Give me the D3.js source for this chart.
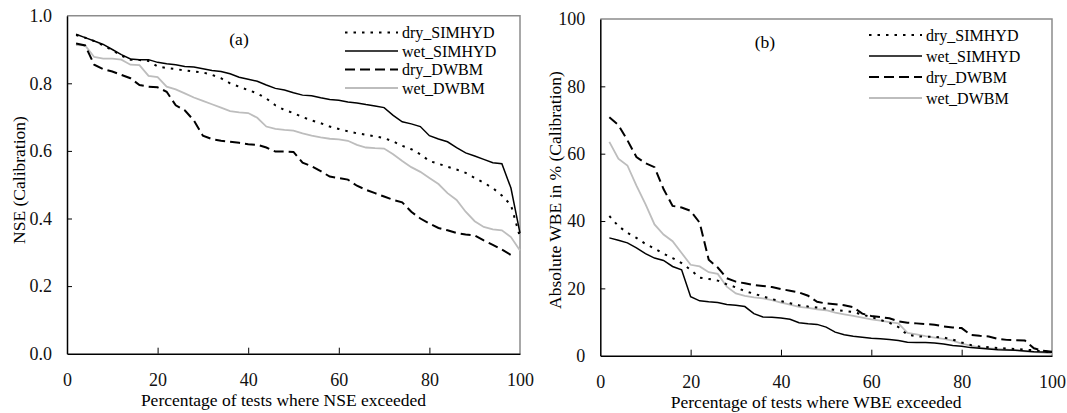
<!DOCTYPE html>
<html>
<head>
<meta charset="utf-8">
<script src="https://cdn.jsdelivr.net/npm/d3@7"></script>
<style>
  body { margin: 0; background: #fff; }
  svg { display: block; font-family: "Liberation Serif", "Times New Roman", serif; }
</style>
</head>
<body>
<div id="chart"></div>
<script>
// Percentage of tests (x values, one per test)
const pct = [2, 4, 6, 8, 10, 12, 14, 16, 18, 20, 22, 24, 26, 28, 30, 32, 34, 36, 38, 40,
  42, 44, 46, 48, 50, 52, 54, 56, 58, 60, 62, 64, 66, 68, 70, 72, 74, 76, 78, 80,
  82, 84, 86, 88, 90, 92, 94, 96, 98, 100];

// (a) NSE, calibration
const nseDrySimhyd = [0.943, 0.935, 0.925, 0.912, 0.898, 0.882, 0.870, 0.869, 0.866, 0.850,
  0.845, 0.842, 0.838, 0.835, 0.832, 0.825, 0.815, 0.800, 0.790, 0.780,
  0.770, 0.755, 0.735, 0.721, 0.712, 0.700, 0.690, 0.682, 0.672, 0.665,
  0.658, 0.652, 0.648, 0.643, 0.638, 0.628, 0.615, 0.605, 0.590, 0.570,
  0.562, 0.553, 0.545, 0.535, 0.520, 0.506, 0.490, 0.468, 0.440, 0.345];
const nseWetSimhyd = [0.945, 0.935, 0.925, 0.915, 0.900, 0.885, 0.872, 0.870, 0.870, 0.862,
  0.858, 0.855, 0.850, 0.848, 0.843, 0.838, 0.835, 0.828, 0.818, 0.812,
  0.806, 0.795, 0.785, 0.780, 0.772, 0.765, 0.763, 0.757, 0.752, 0.750,
  0.745, 0.742, 0.737, 0.733, 0.728, 0.705, 0.686, 0.680, 0.672, 0.645,
  0.635, 0.627, 0.610, 0.594, 0.585, 0.575, 0.565, 0.562, 0.490, 0.357];
const nseDryDwbm = [0.918, 0.912, 0.855, 0.842, 0.835, 0.825, 0.815, 0.795, 0.790, 0.788,
  0.775, 0.735, 0.720, 0.690, 0.645, 0.635, 0.630, 0.627, 0.624, 0.620,
  0.618, 0.610, 0.598, 0.598, 0.597, 0.565, 0.555, 0.540, 0.524, 0.520,
  0.515, 0.497, 0.485, 0.475, 0.465, 0.455, 0.448, 0.420, 0.400, 0.385,
  0.372, 0.365, 0.357, 0.353, 0.350, 0.335, 0.322, 0.308, 0.292];
const nseWetDwbm = [0.913, 0.912, 0.878, 0.873, 0.873, 0.870, 0.855, 0.854, 0.822, 0.818,
  0.790, 0.782, 0.770, 0.758, 0.748, 0.738, 0.728, 0.718, 0.714, 0.712,
  0.698, 0.672, 0.665, 0.662, 0.660, 0.652, 0.645, 0.640, 0.636, 0.634,
  0.630, 0.618, 0.610, 0.608, 0.607, 0.590, 0.570, 0.552, 0.538, 0.520,
  0.502, 0.475, 0.455, 0.420, 0.392, 0.375, 0.368, 0.365, 0.345, 0.305];

// (b) absolute WBE in %, calibration
const wbeDrySimhyd = [41.5, 38.5, 36.5, 35.0, 33.2, 31.8, 30.3, 29.0, 27.5, 25.5,
  23.2, 22.8, 22.3, 21.2, 20.3, 19.2, 18.4, 17.6, 16.8, 16.2,
  15.6, 15.0, 14.6, 14.3, 14.0, 13.6, 13.3, 13.0, 12.2, 11.5,
  10.6, 9.8, 8.5, 6.2, 5.8, 5.6, 5.6, 5.4, 4.8, 3.9,
  3.2, 2.7, 2.5, 2.3, 2.1, 2.0, 1.8, 1.6, 1.3, 1.0];
const wbeWetSimhyd = [35.0, 34.3, 33.5, 32.0, 30.3, 29.0, 28.3, 26.5, 25.5, 17.5,
  16.3, 16.0, 15.8, 15.2, 15.0, 14.6, 12.5, 11.5, 11.4, 11.2,
  10.8, 9.8, 9.5, 9.3, 8.5, 7.0, 6.2, 5.8, 5.5, 5.2,
  5.0, 4.8, 4.5, 4.0, 3.9, 3.9, 3.8, 3.5, 3.0, 2.8,
  2.4, 2.2, 2.0, 1.8, 1.7, 1.6, 1.4, 1.2, 1.1, 1.0];
const wbeDryDwbm = [70.8, 68.5, 64.0, 59.0, 57.2, 56.0, 49.5, 44.5, 44.0, 43.0,
  39.5, 28.5, 26.2, 23.0, 22.0, 21.5, 21.0, 20.7, 20.4, 19.8,
  19.3, 18.8, 17.8, 16.0, 15.5, 15.3, 15.0, 14.4, 12.5, 11.8,
  11.5, 11.1, 10.2, 9.8, 9.6, 9.4, 9.2, 8.7, 8.4, 8.2,
  6.2, 5.9, 5.7, 5.0, 4.7, 4.6, 4.5, 2.2, 1.5, 1.2];
const wbeWetDwbm = [63.5, 58.5, 56.5, 50.5, 45.0, 39.0, 36.0, 34.0, 30.5, 27.0,
  26.5, 24.8, 24.3, 20.5, 18.5, 17.8, 17.3, 17.0, 16.5, 15.8,
  15.2, 14.5, 14.2, 13.8, 13.5, 12.8, 12.3, 11.8, 11.3, 10.8,
  10.4, 10.0, 9.6, 6.8, 6.3, 5.8, 5.4, 5.0, 4.5, 3.6,
  3.0, 2.4, 2.2, 2.0, 1.8, 1.6, 1.3, 1.1, 0.9, 0.6];

const seriesNames = ["dry_SIMHYD", "wet_SIMHYD", "dry_DWBM", "wet_DWBM"];
const pctTicks = [0, 20, 40, 60, 80, 100];
const nseTicks = [0, 0.2, 0.4, 0.6, 0.8, 1.0];
const wbeTicks = [0, 20, 40, 60, 80, 100];

// line look per series (same order as seriesNames)
const lineStyle = [
  {stroke: "#000", width: 2, dash: "2.5,6"},
  {stroke: "#000", width: 1.5, dash: null},
  {stroke: "#000", width: 2, dash: "10,5"},
  {stroke: "#bdbdbd", width: 1.8, dash: null}
];

const width = 1067, height = 413;
const svg = d3.select("#chart").append("svg")
    .attr("width", width)
    .attr("height", height)
    .attr("viewBox", [0, 0, width, height]);

function panel(o) {
  const x = d3.scaleLinear().domain([0, 100]).range([o.left, o.right]);
  const y = d3.scaleLinear().domain([o.yTicks[0], o.yTicks[o.yTicks.length - 1]]).range([o.bottom, o.top]);
  const g = svg.append("g");

  // gray frame on top and right
  g.append("path")
      .attr("d", `M${o.left},${o.top}H${o.right}V${o.bottom}`)
      .attr("fill", "none")
      .attr("stroke", "#8c8c8c")
      .attr("stroke-width", 1.5);

  // axes, ticks point inwards
  g.append("g")
      .attr("transform", `translate(0,${o.bottom})`)
      .call(d3.axisBottom(x).tickValues(pctTicks).tickSize(-6).tickSizeOuter(0).tickPadding(20))
      .call(a => a.selectAll(".tick line").filter(d => d === 0 || d === 100).remove())
      .call(a => a.select(".domain").attr("stroke-width", 1.5))
      .call(a => a.selectAll("text").attr("font-size", 18).attr("font-family", "Liberation Serif, serif").attr("fill", "#111"));

  g.append("g")
      .attr("transform", `translate(${o.left},0)`)
      .call(d3.axisLeft(y).tickValues(o.yTicks).tickFormat(o.yFormat).tickSize(-5).tickSizeOuter(0).tickPadding(15))
      .call(a => a.selectAll(".tick line").filter((d, i) => i === 0 || i === o.yTicks.length - 1).remove())
      .call(a => a.select(".domain").attr("stroke-width", 1.5))
      .call(a => a.selectAll("text").attr("font-size", 18).attr("font-family", "Liberation Serif, serif").attr("fill", "#111"));

  // curves
  const line = d3.line().x(d => x(d[0])).y(d => y(d[1]));
  const order = [3, 2, 0, 1];
  order.forEach(i => {
    const vals = o.series[i];
    g.append("path")
        .datum(vals.map((v, j) => [pct[j], v]))
        .attr("d", line)
        .attr("fill", "none")
        .attr("stroke", lineStyle[i].stroke)
        .attr("stroke-width", lineStyle[i].width)
        .attr("stroke-dasharray", lineStyle[i].dash);
  });

  // panel letter
  g.append("text")
      .attr("x", o.letterX)
      .attr("y", o.top + 29)
      .attr("text-anchor", "middle")
      .attr("font-size", 17.5)
      .text(o.letter);

  // legend
  const lg = g.append("g").attr("transform", `translate(${o.legendX},${o.legendY})`);
  seriesNames.forEach((name, i) => {
    const yy = i * o.legendStep;
    lg.append("line")
        .attr("x1", 0).attr("x2", 53)
        .attr("y1", yy).attr("y2", yy)
        .attr("stroke", lineStyle[i].stroke)
        .attr("stroke-width", lineStyle[i].width)
        .attr("stroke-dasharray", lineStyle[i].dash);
    lg.append("text")
        .attr("x", 57)
        .attr("y", yy)
        .attr("dy", "0.35em")
        .attr("font-size", 16)
        .text(name);
  });

  // axis titles
  g.append("text")
      .attr("x", (o.left + o.right) / 2 - 10)
      .attr("y", o.bottom + 52)
      .attr("text-anchor", "middle")
      .attr("font-size", 17.5)
      .text(o.xTitle);

  g.append("text")
      .attr("transform", `translate(${o.yTitleX},${o.yTitleY}) rotate(-90)`)
      .attr("dy", "0.35em")
      .attr("text-anchor", "middle")
      .attr("font-size", 17.5)
      .text(o.yTitle);
}

panel({
  left: 67, right: 520, top: 15.7, bottom: 353.7,
  yTicks: nseTicks, yFormat: d3.format(".1f"),
  series: [nseDrySimhyd, nseWetSimhyd, nseDryDwbm, nseWetDwbm],
  letter: "(a)", letterX: 239,
  legendX: 345, legendY: 32.5, legendStep: 18.5,
  xTitle: "Percentage of tests where NSE exceeded",
  yTitle: "NSE (Calibration)", yTitleX: 18.5, yTitleY: 180
});

panel({
  left: 600.3, right: 1052, top: 19, bottom: 355.7,
  yTicks: wbeTicks, yFormat: d3.format("d"),
  series: [wbeDrySimhyd, wbeWetSimhyd, wbeDryDwbm, wbeWetDwbm],
  letter: "(b)", letterX: 765,
  legendX: 869, legendY: 35, legendStep: 21,
  xTitle: "Percentage of tests where WBE exceeded",
  yTitle: "Absolute WBE in % (Calibration)", yTitleX: 555, yTitleY: 190
});
</script>
</body>
</html>
